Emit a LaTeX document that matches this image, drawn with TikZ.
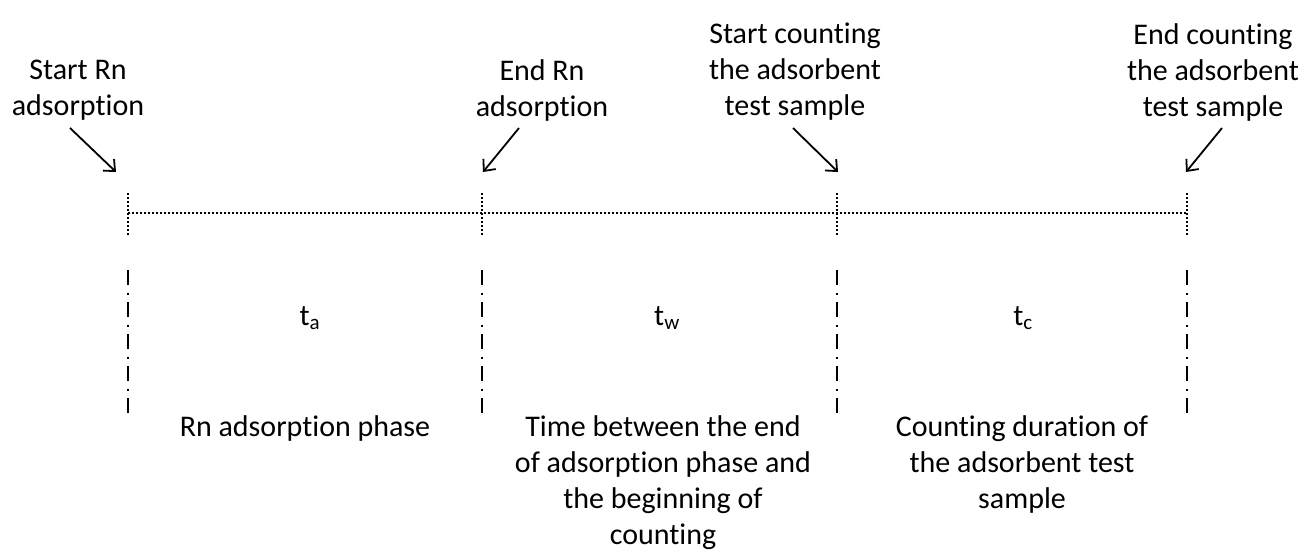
\documentclass[tikz,border=0pt]{standalone}
\usepackage{fontspec}
\setmainfont{Carlito}[Ligatures=NoCommon]
\usetikzlibrary{arrows.meta}
\begin{document}
\begin{tikzpicture}[x=1pt,y=-1pt,
  lbl/.style={align=center,font=\fontsize{30}{36}\selectfont,inner sep=0pt},
  sym/.style={font=\fontsize{30}{36}\selectfont,inner sep=0pt},
  dotline/.style={line width=1.4pt,dash pattern=on 2pt off 2pt},
  dashdot/.style={line width=1.5pt,dash pattern=on 15pt off 8pt on 1.5pt off 7.5pt},
  pointer/.style={line width=1.8pt,-{Straight Barb[length=9pt,width=16pt,line width=1.8pt]}}]
\useasboundingbox (0,0) rectangle (1311,549);
% tick positions
\foreach \n/\x in {a/128,b/482,c/837,d/1187}{
  \coordinate (top\n) at (\x,193);
  \coordinate (mid\n) at (\x,235);
  \coordinate (low\n) at (\x,270);
  \coordinate (end\n) at (\x,413);
  \draw[dotline] (top\n) -- (mid\n);
  \draw[dashdot] (low\n) -- (end\n);
}
\coordinate (ha) at (128,213);
\coordinate (hd) at (1187,213);
\draw[dotline] (ha) -- (hd);
% top labels
\node[lbl] (l1) at (78,90) {Start Rn\\adsorption};
\node[lbl] (l2) at (542,90) {End Rn\\adsorption};
\node[lbl] (l3) at (795,72) {Start counting\\the adsorbent\\test sample};
\node[lbl] (l4) at (1213,72) {End counting\\the adsorbent\\test sample};
% arrows
\coordinate (s1) at (70,128);  \coordinate (e1) at (116,172);
\coordinate (s2) at (519,128); \coordinate (e2) at (483,172);
\coordinate (s3) at (793,128); \coordinate (e3) at (838,172);
\coordinate (s4) at (1222,128);\coordinate (e4) at (1186,172);
\draw[pointer] (s1) -- (e1);
\draw[pointer] (s2) -- (e2);
\draw[pointer] (s3) -- (e3);
\draw[pointer] (s4) -- (e4);
% symbols
\node[sym] (ta) at (310,318) {t\textsubscript{a}};
\node[sym] (tw) at (667,318) {t\textsubscript{w}};
\node[sym] (tc) at (1023,318) {t\textsubscript{c}};
% bottom labels
\node[lbl,anchor=north] (p1) at (305,415) {Rn adsorption phase};
\node[lbl,anchor=north] (p2) at (663,415) {Time between the end\\of adsorption phase and\\the beginning of\\counting};
\node[lbl,anchor=north] (p3) at (1022,415) {Counting duration of\\the adsorbent test\\sample};
\end{tikzpicture}
\end{document}
